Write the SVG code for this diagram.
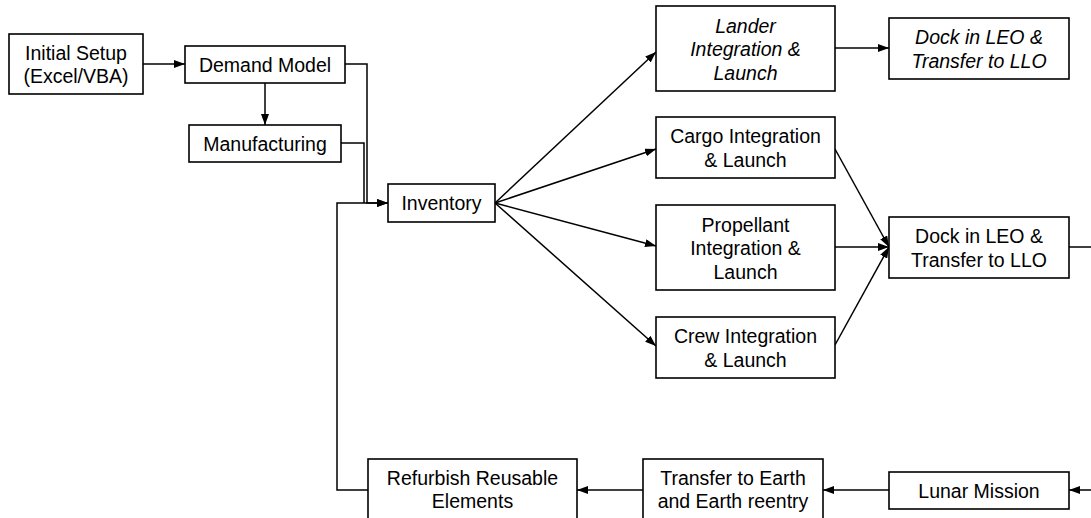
<svg xmlns="http://www.w3.org/2000/svg" width="1091" height="518" viewBox="0 0 1091 518">
<defs>
<marker id="arr" markerUnits="userSpaceOnUse" markerWidth="11" markerHeight="8" refX="11" refY="4" orient="auto">
<path d="M0,0 L11,4 L0,8 z" fill="#000"/>
</marker>
<style>
rect.box{fill:#fff;stroke:#000;stroke-width:1.6}
text{font-family:"Liberation Sans",Arial,sans-serif;font-size:19.5px;fill:#000;text-anchor:middle}
text.it{font-style:italic}
.c{fill:none;stroke:#000;stroke-width:1.5}
</style>
</defs>
<rect width="1091" height="518" fill="#fff"/>
<g id="connectors">
<path class="c" d="M143,64 H185" marker-end="url(#arr)"/>
<path class="c" d="M265,83 V125" marker-end="url(#arr)"/>
<path class="c" d="M345,64 H367 V203 H388" marker-end="url(#arr)"/>
<path class="c" d="M341,143 H364 V203"/>
<path class="c" d="M368,490 H337 V203 H388" marker-end="url(#arr)"/>
<path class="c" d="M495,203 L656,52" marker-end="url(#arr)"/>
<path class="c" d="M495,203 L656,149" marker-end="url(#arr)"/>
<path class="c" d="M495,203 L656,246" marker-end="url(#arr)"/>
<path class="c" d="M495,203 L656,346" marker-end="url(#arr)"/>
<path class="c" d="M835,48 H889" marker-end="url(#arr)"/>
<path class="c" d="M835,149 L889,247" marker-end="url(#arr)"/>
<path class="c" d="M835,247 H889" marker-end="url(#arr)"/>
<path class="c" d="M835,345 L889,247" marker-end="url(#arr)"/>
<path class="c" d="M1069,247 H1096 V490 H1069" marker-end="url(#arr)"/>
<path class="c" d="M889,490 H823" marker-end="url(#arr)"/>
<path class="c" d="M643,490 H577" marker-end="url(#arr)"/>
</g>
<g id="initial-setup">
<rect class="box" x="9" y="34" width="134" height="60"/>
<text x="76" y="59.5">Initial Setup</text>
<text x="76" y="83">(Excel/VBA)</text>
</g>
<g id="demand-model">
<rect class="box" x="185" y="46" width="160" height="37"/>
<text x="265" y="71.5">Demand Model</text>
</g>
<g id="manufacturing">
<rect class="box" x="189" y="125" width="152" height="37"/>
<text x="265" y="150.5">Manufacturing</text>
</g>
<g id="inventory">
<rect class="box" x="388" y="184" width="107" height="38"/>
<text x="441.5" y="210">Inventory</text>
</g>
<g id="lander">
<rect class="box" x="656" y="6" width="179" height="85"/>
<text class="it" x="745.5" y="32.5">Lander</text>
<text class="it" x="745.5" y="56">Integration &amp;</text>
<text class="it" x="745.5" y="79.5">Launch</text>
</g>
<g id="dock-top">
<rect class="box" x="889" y="18" width="180" height="61"/>
<text class="it" x="979" y="44">Dock in LEO &amp;</text>
<text class="it" x="979" y="67.5">Transfer to LLO</text>
</g>
<g id="cargo">
<rect class="box" x="656" y="117" width="179" height="61"/>
<text x="745.5" y="143">Cargo Integration</text>
<text x="745.5" y="166.5">&amp; Launch</text>
</g>
<g id="propellant">
<rect class="box" x="656" y="205" width="179" height="85"/>
<text x="745.5" y="231.5">Propellant</text>
<text x="745.5" y="255">Integration &amp;</text>
<text x="745.5" y="278.5">Launch</text>
</g>
<g id="crew">
<rect class="box" x="656" y="317" width="179" height="61"/>
<text x="745.5" y="343">Crew Integration</text>
<text x="745.5" y="366.5">&amp; Launch</text>
</g>
<g id="dock-low">
<rect class="box" x="889" y="217" width="180" height="61"/>
<text x="979" y="243">Dock in LEO &amp;</text>
<text x="979" y="266.5">Transfer to LLO</text>
</g>
<g id="lunar-mission">
<rect class="box" x="889" y="472" width="180" height="37"/>
<text x="979" y="497.5">Lunar Mission</text>
</g>
<g id="transfer-earth">
<rect class="box" x="643" y="459" width="180" height="70"/>
<text x="733" y="485">Transfer to Earth</text>
<text x="733" y="508">and Earth reentry</text>
</g>
<g id="refurbish">
<rect class="box" x="368" y="459" width="209" height="70"/>
<text x="472.5" y="485">Refurbish Reusable</text>
<text x="472.5" y="508">Elements</text>
</g>
</svg>
